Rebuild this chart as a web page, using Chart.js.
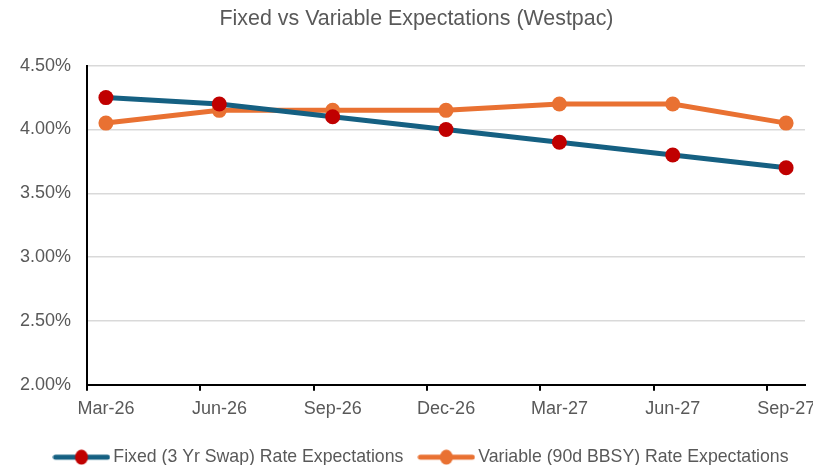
<!DOCTYPE html>
<html>
<head>
<meta charset="utf-8">
<script src="https://cdn.jsdelivr.net/npm/chart.js@4"></script>
<style>
  html, body { margin: 0; padding: 0; background: #fff; }
  #wrap { width: 813px; height: 465px; }
</style>
</head>
<body>
<div id="wrap"><canvas id="rateChart"></canvas></div>
<script>
// quarter labels, one every 3 months starting Mar-26
var xLabels = ['Mar-26', 'Jun-26', 'Sep-26', 'Dec-26', 'Mar-27', 'Jun-27', 'Sep-27'];
// month index of each point (middle of the month)
var monthPos = [0.5, 3.5, 6.5, 9.5, 12.5, 15.5, 18.5];
var fixedRates = [4.25, 4.20, 4.10, 4.00, 3.90, 3.80, 3.70];
var variableRates = [4.05, 4.15, 4.15, 4.15, 4.20, 4.20, 4.05];
var yTicks = [2.00, 2.50, 3.00, 3.50, 4.00, 4.50];

function toPoints(vals) {
    var pts = [];
    for (var i = 0; i < vals.length; i++) {
        pts.push({ x: monthPos[i], y: vals[i] });
    }
    return pts;
}

// small line + dot picture for the legend
function legendIcon(lineColor, dotColor) {
    var c = document.createElement('canvas');
    c.width = 58; c.height = 16;
    var ctx = c.getContext('2d');
    ctx.strokeStyle = lineColor;
    ctx.lineWidth = 5;
    ctx.lineCap = 'round';
    ctx.beginPath();
    ctx.moveTo(3, 8); ctx.lineTo(55, 8);
    ctx.stroke();
    ctx.fillStyle = dotColor;
    ctx.beginPath();
    ctx.ellipse(29, 8, 6.5, 7.5, 0, 0, Math.PI * 2);
    ctx.fill();
    return c;
}

// nudge title and legend sideways like the Excel original
var shiftBoxes = {
    id: 'shiftBoxes',
    afterLayout: function (chart) {
        chart.titleBlock.left += 12; chart.titleBlock.right += 12;
        chart.legend.left += 19; chart.legend.right += 19;
    }
};

Chart.defaults.font.family = "'Liberation Sans', Arial, sans-serif";
Chart.defaults.color = '#595959';

var fixedColor = '#156082', fixedDot = '#C00000', varColor = '#E97132';
var icons = [legendIcon(fixedColor, fixedDot), legendIcon(varColor, varColor)];

var rateChart = new Chart(document.getElementById('rateChart'), {
    type: 'line',
    data: {
        datasets: [{
            label: 'Fixed (3 Yr Swap) Rate Expectations',
            data: toPoints(fixedRates),
            borderColor: fixedColor,
            backgroundColor: fixedDot,
            pointBackgroundColor: fixedDot,
            pointBorderColor: fixedDot,
            borderWidth: 5,
            pointRadius: 7.5,
            pointBorderWidth: 0,
            tension: 0
        }, {
            label: 'Variable (90d BBSY) Rate Expectations',
            data: toPoints(variableRates),
            borderColor: varColor,
            backgroundColor: varColor,
            pointBackgroundColor: varColor,
            pointBorderColor: varColor,
            borderWidth: 5,
            pointRadius: 7.5,
            pointBorderWidth: 0,
            tension: 0
        }]
    },
    options: {
        responsive: true,
        maintainAspectRatio: false,
        animation: false,
        layout: { padding: { left: 4, right: 8, top: 0, bottom: -11 } },
        plugins: {
            title: {
                display: true,
                text: 'Fixed vs Variable Expectations (Westpac)',
                font: { size: 21.4, weight: 'normal' },
                color: '#595959',
                padding: { top: 6, bottom: 34 }
            },
            legend: {
                position: 'bottom',
                labels: {
                    usePointStyle: true,
                    pointStyleWidth: 46,
                    font: { size: 17.7 },
                    color: '#595959',
                    padding: 20,
                    generateLabels: function (chart) {
                        return chart.data.datasets.map(function (ds, i) {
                            return {
                                text: ds.label,
                                pointStyle: icons[i],
                                fillStyle: ds.borderColor,
                                strokeStyle: ds.borderColor,
                                lineWidth: 0,
                                fontColor: '#595959',
                                datasetIndex: i,
                                hidden: false
                            };
                        });
                    }
                }
            },
            tooltip: { enabled: false }
        },
        scales: {
            x: {
                type: 'linear',
                min: 0,
                max: 19,
                afterBuildTicks: function (scale) {
                    scale.ticks = xLabels.map(function (l, i) { return { value: i * 3 }; });
                },
                ticks: {
                    font: { size: 18 },
                    color: '#595959',
                    labelOffset: 19,
                    padding: 8,
                    maxRotation: 0,
                    autoSkip: false,
                    callback: function (v) { return xLabels[Math.round(v / 3)]; }
                },
                grid: { drawOnChartArea: false, drawTicks: true, tickLength: 6, color: '#000', lineWidth: 2 },
                border: { color: '#000', width: 2 }
            },
            y: {
                min: 2,
                max: 4.5,
                afterBuildTicks: function (scale) {
                    scale.ticks = yTicks.map(function (v) { return { value: v }; });
                },
                ticks: {
                    font: { size: 18 },
                    color: '#595959',
                    padding: 16,
                    callback: function (v) { return v.toFixed(2) + '%'; }
                },
                grid: { color: '#d9d9d9', lineWidth: 1.5, drawTicks: false },
                border: { color: '#000', width: 2 }
            }
        }
    },
    plugins: [shiftBoxes]
});
</script>
</body>
</html>
